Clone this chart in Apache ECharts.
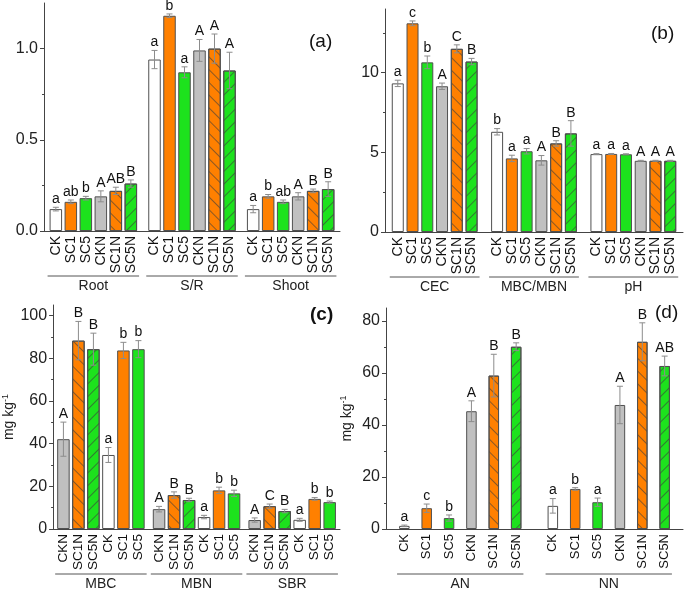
<!DOCTYPE html>
<html>
<head>
<meta charset="utf-8">
<script src="https://cdn.jsdelivr.net/npm/echarts@6.0.0/dist/echarts.min.js"></script>
<style>
  html, body { margin: 0; padding: 0; background: #fff; }
  #main { width: 685px; height: 592px; }
</style>
</head>
<body>
<div id="main"></div>
<script>
// (a) plant
var aGroups = ['Root', 'S/R', 'Shoot'];
var aTreat = ['CK', 'SC1', 'SC5', 'CKN', 'SC1N', 'SC5N'];
var aMean = [
    [0.12, 0.16, 0.18, 0.19, 0.22, 0.26],
    [0.94, 1.18, 0.87, 0.99, 1.00, 0.88],
    [0.12, 0.19, 0.16, 0.19, 0.22, 0.23]
];
var aErr = [
    [0.01, 0.01, 0.01, 0.03, 0.02, 0.02],
    [0.05, 0.01, 0.03, 0.06, 0.08, 0.10],
    [0.02, 0.01, 0.01, 0.02, 0.01, 0.04]
];
var aLetter = [
    ['a', 'ab', 'b', 'A', 'AB', 'B'],
    ['a', 'b', 'a', 'A', 'A', 'A'],
    ['a', 'b', 'ab', 'A', 'B', 'B']
];
var aTicks = [0, 0.5, 1.0];
var aMinor = [0.25, 0.75];

// (b) soil
var bGroups = ['CEC', 'MBC/MBN', 'pH'];
var bTreat = ['CK', 'SC1', 'SC5', 'CKN', 'SC1N', 'SC5N'];
var bMean = [
    [9.33, 13.1, 10.65, 9.15, 11.5, 10.7],
    [6.29, 4.62, 5.07, 4.50, 5.56, 6.19],
    [4.89, 4.90, 4.88, 4.47, 4.47, 4.47]
];
var bErr = [
    [0.2, 0.15, 0.4, 0.2, 0.25, 0.2],
    [0.2, 0.2, 0.17, 0.3, 0.17, 0.8],
    [0.03, 0.03, 0.03, 0.03, 0.03, 0.03]
];
var bLetter = [
    ['a', 'c', 'b', 'A', 'C', 'B'],
    ['b', 'a', 'a', 'A', 'B', 'B'],
    ['a', 'a', 'a', 'A', 'A', 'A']
];
var bTicks = [0, 5, 10];
var bMinor = [2.5, 7.5, 12.5];

// (c) microbial
var cGroups = ['MBC', 'MBN', 'SBR'];
var cTreat = ['CKN', 'SC1N', 'SC5N', 'CK', 'SC1', 'SC5'];
var cMean = [
    [42.1, 88.3, 84.3, 34.7, 83.7, 84.3],
    [9.3, 15.9, 13.6, 5.6, 18.1, 16.7],
    [4.2, 10.7, 8.4, 4.3, 14.1, 12.6]
];
var cErr = [
    [8.0, 9.0, 7.5, 3.5, 3.8, 4.0],
    [1.3, 1.5, 0.8, 0.8, 1.5, 1.5],
    [1.0, 1.0, 0.8, 0.7, 0.6, 0.5]
];
var cLetter = [
    ['A', 'B', 'B', 'a', 'b', 'b'],
    ['A', 'B', 'B', 'a', 'b', 'b'],
    ['A', 'C', 'B', 'a', 'b', 'b']
];
var cTicks = [0, 20, 40, 60, 80, 100];
var cMinor = [10, 30, 50, 70, 90];

// (d) nitrogen
var dGroups = ['AN', 'NN'];
var dTreat = ['CK', 'SC1', 'SC5', 'CKN', 'SC1N', 'SC5N'];
var dMean = [
    [1.2, 8.0, 4.2, 45.3, 59.0, 70.1],
    [8.9, 15.4, 10.3, 47.7, 72.0, 62.7]
];
var dErr = [
    [0.3, 1.6, 1.2, 4.0, 8.2, 1.5],
    [2.8, 0.5, 1.6, 7.2, 7.3, 3.8]
];
var dLetter = [
    ['a', 'c', 'b', 'A', 'B', 'B'],
    ['a', 'b', 'a', 'A', 'B', 'AB']
];
var dTicks = [0, 20, 40, 60, 80];
var dMinor = [10, 30, 50, 70];

var FONT = "'Liberation Sans', Arial, sans-serif";
var AXIS = '#444';

// 每个处理的填充样式
var styles = {
    CK: { color: '#ffffff' },
    SC1: { color: '#ff8000' },
    SC5: { color: '#1de21d' },
    CKN: { color: '#c0c0c0' },
    SC1N: { color: '#ff8000', hatch: Math.PI / 4 },
    SC5N: { color: '#1de21d', hatch: -Math.PI / 4 }
};

var panels = [
    { tag: '(a)', groups: aGroups, treat: aTreat, mean: aMean, err: aErr, letter: aLetter,
      ticks: aTicks, minor: aMinor, max: 1.25, digits: 1, unit: false,
      grid: { left: 44, top: 3, width: 296, height: 228 },
      barWidth: 12.5, gap: 0.2, fs: 14, tagPos: [309, 32], bold: false },
    { tag: '(b)', groups: bGroups, treat: bTreat, mean: bMean, err: bErr, letter: bLetter,
      ticks: bTicks, minor: bMinor, max: 14, digits: 0, unit: false,
      grid: { left: 385, top: 9, width: 298, height: 223 },
      barWidth: 12, gap: 0.23, fs: 14, tagPos: [651, 24], bold: false },
    { tag: '(c)', groups: cGroups, treat: cTreat, mean: cMean, err: cErr, letter: cLetter,
      ticks: cTicks, minor: cMinor, max: 105, digits: 0, unit: true,
      grid: { left: 45, top: 305, width: 295, height: 224 },
      barWidth: 12.5, gap: 0.2, fs: 13.5, tagPos: [310, 305], bold: true },
    { tag: '(d)', groups: dGroups, treat: dTreat, mean: dMean, err: dErr, letter: dLetter,
      ticks: dTicks, minor: dMinor, max: 85, digits: 0, unit: true,
      grid: { left: 386, top: 308, width: 297, height: 221 },
      barWidth: 10.5, gap: 1.13, fs: 13, tagPos: [655, 303], bold: false }
];

window.onload = function () {
    var myChart = echarts.init(document.getElementById('main'));

    var option = {
        animation: false,
        textStyle: { fontFamily: FONT },
        title: [],
        grid: [],
        xAxis: [],
        yAxis: [],
        series: []
    };

    panels.forEach(function (p, k) {
        option.title.push({
            text: p.tag, left: p.tagPos[0], top: p.tagPos[1], padding: 0,
            textStyle: { fontSize: 19, fontWeight: p.bold ? 'bold' : 'normal', color: '#111', fontFamily: FONT }
        });
        option.grid.push(p.grid);
        option.xAxis.push({
            type: 'category', gridIndex: k, data: p.groups,
            axisLine: { lineStyle: { color: AXIS } },
            axisTick: { show: false },
            axisLabel: { margin: 48, fontSize: 14, color: '#222', fontFamily: FONT }
        });
        var yMain = {
            type: 'value', gridIndex: k, min: 0, max: p.max,
            splitLine: { show: false },
            axisLine: { show: true, lineStyle: { color: AXIS } },
            axisTick: { show: true, length: 4, customValues: p.ticks, lineStyle: { color: AXIS } },
            axisLabel: {
                customValues: p.ticks, fontSize: 16, margin: 6, color: '#222', fontFamily: FONT,
                formatter: function (v) { return v.toFixed(p.digits); }
            }
        };
        if (p.unit) {
            yMain.name = '{n|mg kg}{s|-1}';
            yMain.nameLocation = 'middle';
            yMain.nameGap = 30;
            yMain.nameTextStyle = {
                color: '#222', fontFamily: FONT,
                rich: {
                    n: { fontSize: 14, fontFamily: FONT, color: '#222' },
                    s: { fontSize: 9, fontFamily: FONT, color: '#222', padding: [0, 0, 8, 0] }
                }
            };
        }
        option.yAxis.push(yMain);
        // 次刻度
        option.yAxis.push({
            type: 'value', gridIndex: k, position: 'left', min: 0, max: p.max,
            splitLine: { show: false },
            axisLine: { show: false },
            axisLabel: { show: false },
            axisTick: { show: true, length: 2, customValues: p.minor, lineStyle: { color: AXIS } }
        });

        p.treat.forEach(function (t, i) {
            var st = styles[t];
            var itemStyle = { color: st.color, borderColor: '#505050', borderWidth: 1 };
            if (st.hatch) {
                itemStyle.decal = {
                    symbol: 'rect', symbolSize: 1, color: 'rgba(60,60,60,0.6)',
                    dashArrayX: [1, 0], dashArrayY: [1, 8], rotation: st.hatch
                };
            }
            option.series.push({
                type: 'bar', name: t, xAxisIndex: k, yAxisIndex: 2 * k,
                barWidth: p.barWidth, barGap: (p.gap * 100) + '%',
                data: p.mean.map(function (row) { return row[i]; }),
                itemStyle: itemStyle
            });
        });

        // 误差线、字母和处理名
        var step = p.barWidth * (1 + p.gap);
        var items = [];
        p.mean.forEach(function (row, g) {
            row.forEach(function (m, i) { items.push([g, i, m, p.err[g][i]]); });
        });
        option.series.push({
            type: 'custom', xAxisIndex: k, yAxisIndex: 2 * k, z: 5, silent: true,
            data: items,
            renderItem: function (params, api) {
                var g = api.value(0), i = api.value(1), m = api.value(2), e = api.value(3);
                var base = api.coord([g, 0]);
                var x = base[0] + (i - 2.5) * step;
                var yt = api.coord([g, m + e])[1];
                var yb = api.coord([g, m - e])[1];
                var ec = { stroke: '#8c8c8c', lineWidth: 1 };
                var kids = [
                    { type: 'line', shape: { x1: x, y1: yt, x2: x, y2: yb }, style: ec },
                    { type: 'line', shape: { x1: x - 3, y1: yt, x2: x + 3, y2: yt }, style: ec },
                    { type: 'line', shape: { x1: x - 3, y1: yb, x2: x + 3, y2: yb }, style: ec },
                    { type: 'text', x: x, y: yt - 1,
                      style: { text: p.letter[g][i], fill: '#111', align: 'center', verticalAlign: 'bottom',
                               font: '14px ' + FONT } },
                    { type: 'text', x: x, y: base[1] + 5, rotation: Math.PI / 2,
                      style: { text: p.treat[i], fill: '#111', align: 'right', verticalAlign: 'middle',
                               font: p.fs + 'px ' + FONT } }
                ];
                if (i === 0) {
                    var x0 = x - p.barWidth / 2 - 2;
                    var x1 = x + 5 * step + p.barWidth / 2 + 2;
                    kids.push({ type: 'line', shape: { x1: x0, y1: base[1] + 45, x2: x1, y2: base[1] + 45 },
                                style: { stroke: '#555', lineWidth: 1 } });
                }
                return { type: 'group', children: kids };
            }
        });
    });

    myChart.setOption(option);
};
</script>
</body>
</html>
